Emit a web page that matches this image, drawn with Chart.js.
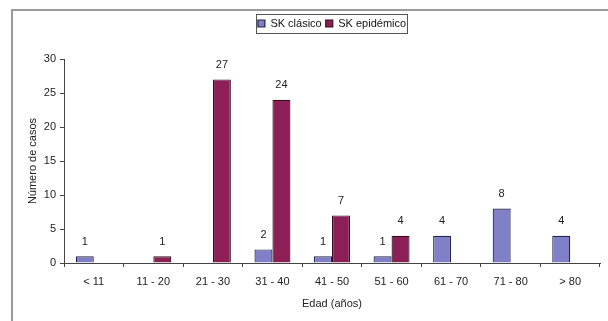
<!DOCTYPE html>
<html lang="es">
<head>
  <meta charset="UTF-8">
  <title>SK clásico vs SK epidémico por edad</title>
  <script src="https://cdn.jsdelivr.net/npm/chart.js"></script>
  <style>
    body {
      margin: 0;
      background: #fff;
    }
    #wrap {
      width: 608px;
      height: 321px;
    }
  </style>
</head>
<body>
  <div id="wrap">
    <canvas id="edadChart" width="608" height="321"></canvas>
  </div>

  <script>
    const ageGroups = ["< 11", "11 - 20", "21 - 30", "31 - 40", "41 - 50", "51 - 60", "61 - 70", "71 - 80", "> 80"];
    const skClasico = [1, null, null, 2, 1, 1, 4, 8, 4];
    const skEpidemico = [null, 1, 27, 24, 7, 4, null, null, null];
    const yTicks = [0, 5, 10, 15, 20, 25, 30];

    const font = "'Liberation Sans', Arial, sans-serif";

    // frame lines round the whole picture (top and left only)
    const framePlugin = {
      id: "frame",
      beforeDraw(chart) {
        const ctx = chart.ctx;
        ctx.save();
        ctx.fillStyle = "#fff";
        ctx.fillRect(0, 0, chart.width, chart.height);
        ctx.strokeStyle = "#9a9a9a";
        ctx.lineWidth = 2;
        ctx.beginPath();
        ctx.moveTo(12, chart.height);
        ctx.lineTo(12, 10);
        ctx.lineTo(chart.width, 10);
        ctx.stroke();
        ctx.restore();
      }
    };

    // box round the legend + extra room under it
    const legendBoxPlugin = {
      id: "legendBox",
      beforeInit(chart) {
        const fit = chart.legend.fit;
        chart.legend.fit = function () {
          fit.bind(chart.legend)();
          this.height += 20;
        };
      },
      afterDraw(chart) {
        const boxes = chart.legend.legendHitBoxes;
        if (!boxes || !boxes.length) return;
        const left = Math.min(...boxes.map(b => b.left)) - 2;
        const right = Math.max(...boxes.map(b => b.left + b.width)) + 1;
        const top = boxes[0].top - 4;
        const bottom = boxes[0].top + boxes[0].height + 4;
        const ctx = chart.ctx;
        ctx.save();
        ctx.strokeStyle = "#555";
        ctx.lineWidth = 1;
        ctx.strokeRect(Math.round(left) + 0.5, Math.round(top) + 0.5, Math.round(right - left), Math.round(bottom - top));
        ctx.restore();
      }
    };

    // value above each bar
    const valueLabels = {
      id: "valueLabels",
      afterDatasetsDraw(chart) {
        const ctx = chart.ctx;
        ctx.save();
        ctx.font = "11px " + font;
        ctx.fillStyle = "#222";
        ctx.textAlign = "center";
        ctx.textBaseline = "bottom";
        chart.data.datasets.forEach((ds, i) => {
          chart.getDatasetMeta(i).data.forEach((bar, j) => {
            const v = ds.data[j];
            if (v === null || v === undefined) return;
            ctx.fillText(v, bar.x, bar.y - 9);
          });
        });
        ctx.restore();
      }
    };

    new Chart(document.getElementById("edadChart"), {
      type: "bar",
      data: {
        labels: ageGroups,
        datasets: [
          {
            label: "SK clásico",
            data: skClasico,
            backgroundColor: "#8080c8",
            borderColor: "#24244a",
            borderWidth: 1.2,
            categoryPercentage: 0.604,
            barPercentage: 1
          },
          {
            label: "SK epidémico",
            data: skEpidemico,
            backgroundColor: "#8c1f55",
            borderColor: "#33101f",
            borderWidth: 1.2,
            categoryPercentage: 0.604,
            barPercentage: 1
          }
        ]
      },
      options: {
        responsive: false,
        animation: false,
        devicePixelRatio: 1,
        layout: { padding: { left: 20, right: 8, top: 14, bottom: 10 } },
        plugins: {
          legend: {
            position: "top",
            fullSize: false,
            labels: {
              boxWidth: 7,
              boxHeight: 7,
              padding: 4,
              color: "#111",
              font: { family: font, size: 11 }
            }
          },
          tooltip: { enabled: false }
        },
        scales: {
          x: {
            grid: {
              offset: true,
              drawOnChartArea: false,
              tickLength: 4,
              color: "#444"
            },
            border: { color: "#444", width: 1 },
            ticks: {
              color: "#222",
              padding: 8,
              font: { family: font, size: 11 }
            },
            title: {
              display: true,
              text: "Edad (años)",
              color: "#222",
              padding: { top: 6, bottom: 0 },
              font: { family: font, size: 11 }
            },
            afterFit: s => { s.height = 48; }
          },
          y: {
            min: 0,
            max: 30,
            afterBuildTicks: s => { s.ticks = yTicks.map(v => ({ value: v })); },
            grid: {
              drawOnChartArea: false,
              tickLength: 4,
              color: "#444"
            },
            border: { color: "#444", width: 1 },
            ticks: {
              color: "#222",
              padding: 4,
              font: { family: font, size: 11 }
            },
            title: {
              display: true,
              text: "Número de casos",
              color: "#222",
              padding: { top: 6, bottom: 4 },
              font: { family: font, size: 11 }
            },
            afterFit: s => { s.width = 44; }
          }
        }
      },
      plugins: [framePlugin, legendBoxPlugin, valueLabels]
    });
  </script>
</body>
</html>
